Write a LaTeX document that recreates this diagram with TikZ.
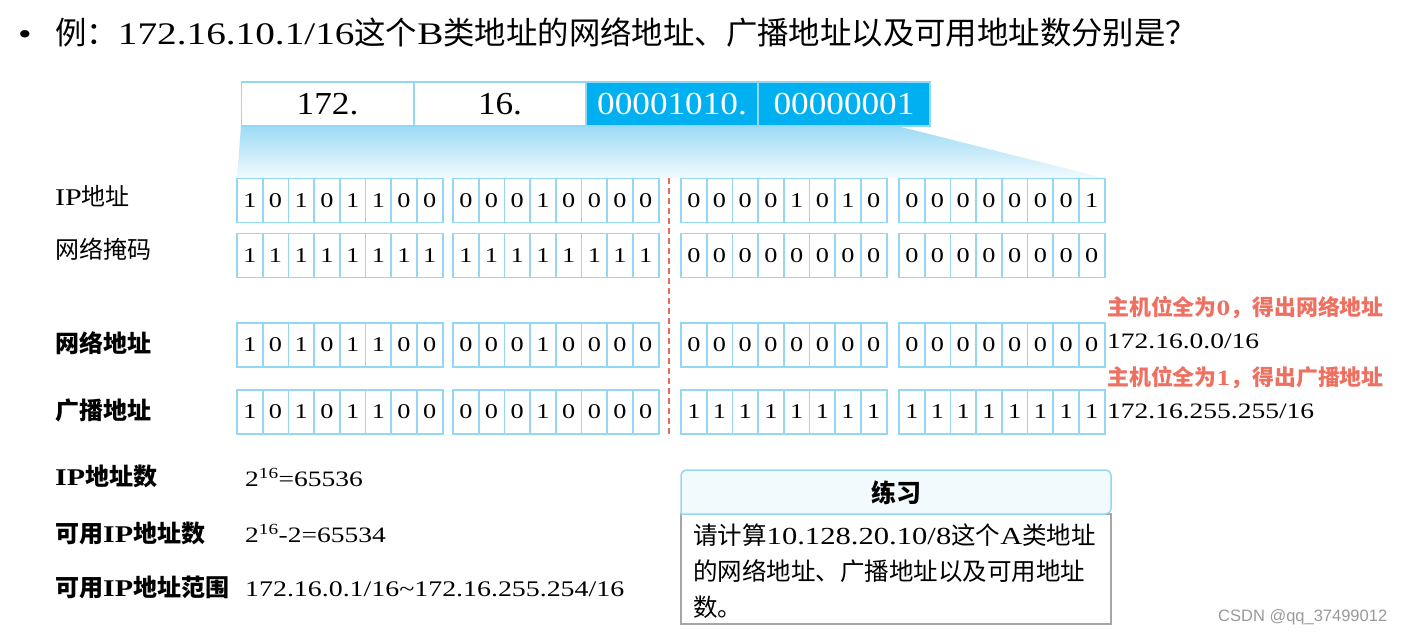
\documentclass[tikz,border=0pt]{standalone}
\usepackage{fontspec}
\setmainfont{Liberation Serif}[FakeStretch=1.25]
\newfontfamily\boxfont{Liberation Serif}[FakeStretch=1.1]
\newfontfamily\cjk{Noto Sans CJK SC}
\newfontfamily\wmfont{Liberation Sans}
\newcommand{\zh}[1]{{\cjk #1}}
\newcommand{\pts}[1]{\fontsize{#1}{#1}\selectfont}

\definecolor{cellline}{HTML}{92D7F3}
\definecolor{hostfill}{HTML}{00B0F0}
\definecolor{gradtop}{HTML}{9CDBF5}
\definecolor{gradbot}{HTML}{F2FAFE}
\definecolor{hintred}{HTML}{EE7060}
\definecolor{cutred}{HTML}{E9695B}
\definecolor{hdrfill}{HTML}{F2FAFD}
\definecolor{bodyline}{HTML}{A6A6A6}
\definecolor{wmgray}{HTML}{9A9A9A}

% bits of each row, 4 octets
\def\bitsIP{{1,0,1,0,1,1,0,0,0,0,0,1,0,0,0,0,0,0,0,0,1,0,1,0,0,0,0,0,0,0,0,1}}
\def\bitsMask{{1,1,1,1,1,1,1,1,1,1,1,1,1,1,1,1,0,0,0,0,0,0,0,0,0,0,0,0,0,0,0,0}}
\def\bitsNet{{1,0,1,0,1,1,0,0,0,0,0,1,0,0,0,0,0,0,0,0,0,0,0,0,0,0,0,0,0,0,0,0}}
\def\bitsBc{{1,0,1,0,1,1,0,0,0,0,0,1,0,0,0,0,1,1,1,1,1,1,1,1,1,1,1,1,1,1,1,1}}

\tikzset{
	octet/.style={draw=cellline,line width=1.8pt,fill=white,minimum width=172pt,minimum height=44pt,inner sep=0pt,font=\boxfont\pts{32}},
	hostoctet/.style={octet,fill=hostfill,text=white},
	bit/.style={draw=cellline,line width=1.8pt,minimum width=25.7pt,minimum height=44pt,inner sep=0pt,font=\pts{21}},
	txt/.style={anchor=base west,inner sep=0pt},
	rowlab/.style={txt,font=\cjk\pts{24}},
	boldlab/.style={txt,font=\bfseries\pts{24}},
	hint/.style={txt,font=\bfseries\pts{21.9},text=hintred},
	val/.style={txt,font=\pts{22}}
}

\begin{document}
\begin{tikzpicture}[x=1pt,y=-1pt]
	\useasboundingbox (0,0) rectangle (1403,633);
	\fill[white] (0,0) rectangle (1403,633);
	% title
	\node[txt,font=\pts{31}] (dot) at (18,44) {•};
	\node[txt,font=\pts{31.4}] (title) at (55,44) {\zh{例：}172.16.10.1/16\zh{这个}B\zh{类地址的网络地址、广播地址以及可用地址数分别是？}};
	% fan from the dotted address down to the bits
	\coordinate (fanTL) at (241,126);
	\coordinate (fanTR) at (897,126);
	\coordinate (fanBR) at (1104,178);
	\coordinate (fanBL) at (237,178);
	\shade[top color=gradtop,bottom color=gradbot] (fanTL) -- (fanTR) -- (fanBR) -- (fanBL) -- cycle;
	\node[octet] (oct1) at (327.5,104) {172.};
	\node[octet] (oct2) at (500,104) {16.};
	\node[hostoctet] (oct3) at (672,104) {00001010.};
	\node[hostoctet] (oct4) at (844,104) {00000001};
	% bit rows
	\foreach \yy/\bits [count=\ri] in {200.5/\bitsIP,255.5/\bitsMask,345/\bitsNet,412/\bitsBc}
		\foreach \gx [count=\gi from 0] in {237,453,681,899}
			\foreach \ki in {0,...,7}{
				\pgfmathtruncatemacro{\ni}{8*\gi+\ki}
				\pgfmathtruncatemacro{\bv}{\bits[\ni]}
				\node[bit] (b\ri-\ni) at ({\gx+12.85+25.7*\ki},\yy) {\bv};
			}
	\coordinate (cutT) at (669,178);
	\coordinate (cutB) at (669,438);
	\draw[cutred,line width=1.5pt,dash pattern=on 6pt off 4pt] (cutT) -- (cutB);
	% row labels
	\node[rowlab] (labIP) at (55,205) {\rmfamily IP\zh{地址}};
	\node[rowlab] (labMask) at (55,258) {网络掩码};
	\node[boldlab] (labNet) at (55,352) {\zh{网络地址}};
	\node[boldlab] (labBc) at (55,419) {\zh{广播地址}};
	% results on the right
	\node[hint] (hintNet) at (1107,315) {\zh{主机位全为}0\zh{，得出网络地址}};
	\node[val] (valNet) at (1107,348) {172.16.0.0/16};
	\node[hint] (hintBc) at (1107,385) {\zh{主机位全为}1\zh{，得出广播地址}};
	\node[val] (valBc) at (1107,418) {172.16.255.255/16};
	% counts
	\node[boldlab] (labCnt) at (55,485) {IP\zh{地址数}};
	\node[boldlab] (labUse) at (55,542) {\zh{可用}IP\zh{地址数}};
	\node[boldlab] (labRng) at (55,596) {\zh{可用}IP\zh{地址范围}};
	\node[val] (valCnt) at (245,486) {2\textsuperscript{16}=65536};
	\node[val] (valUse) at (245,542) {2\textsuperscript{16}-2=65534};
	\node[val,font=\pts{22.3}] (valRng) at (245,596) {172.16.0.1/16\textasciitilde172.16.255.254/16};
	% exercise box
	\draw[bodyline,line width=1.2pt,fill=white] (681,514) rectangle (1111,624);
	\draw[cellline,line width=1.5pt,fill=hdrfill,rounded corners=6pt] (681,514) |- (1111,470) -- (1111,514) [sharp corners] -- cycle;
	\node[font=\cjk\bfseries\pts{25},inner sep=0pt] (exHead) at (896,493) {练习};
	\node[val,font=\pts{24.5}] (ex1) at (693,544) {\zh{请计算}10.128.20.10/8\zh{这个}A\zh{类地址}};
	\node[val,font=\cjk\pts{24.5}] (ex2) at (693,580) {的网络地址、广播地址以及可用地址};
	\node[val,font=\cjk\pts{24.5}] (ex3) at (693,616) {数。};
	\node[txt,font=\wmfont\pts{16.5},text=wmgray] (mark) at (1218,621) {CSDN @qq\_37499012};
\end{tikzpicture}
\end{document}
